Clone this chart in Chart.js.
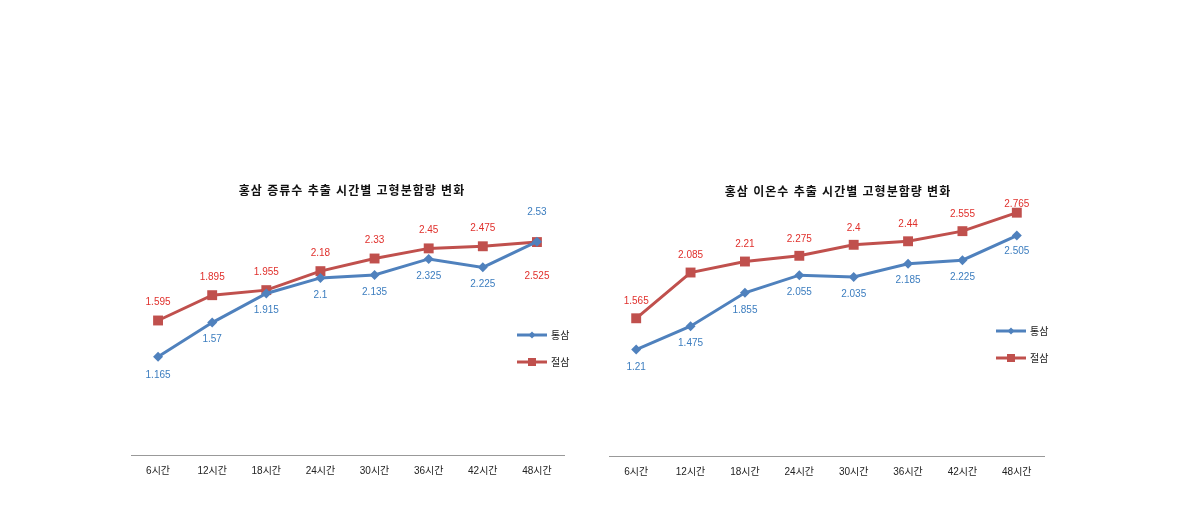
<!DOCTYPE html>
<html>
<head>
<meta charset="utf-8">
<script src="https://cdn.jsdelivr.net/npm/chart.js@4/dist/chart.umd.min.js"></script>
<style>
  body { margin: 0; background: #fff; }
  #wrap { position: relative; width: 1190px; height: 523px; }
  .box { position: absolute; top: 0; width: 595px; height: 523px; }
</style>
</head>
<body>
<div id="wrap">
  <div class="box" style="left:0"><canvas id="chart1"></canvas></div>
  <div class="box" style="left:595px"><canvas id="chart2"></canvas></div>
</div>
<script>
const hours = ["6시간", "12시간", "18시간", "24시간", "30시간", "36시간", "42시간", "48시간"];
const seriesNames = ["통삼", "절삼"];

// 증류수
const distilledWhole = [1.165, 1.57, 1.915, 2.1, 2.135, 2.325, 2.225, 2.53];
const distilledCut = [1.595, 1.895, 1.955, 2.18, 2.33, 2.45, 2.475, 2.525];

// 이온수
const ionWhole = [1.21, 1.475, 1.855, 2.055, 2.035, 2.185, 2.225, 2.505];
const ionCut = [1.565, 2.085, 2.21, 2.275, 2.4, 2.44, 2.555, 2.765];

const titles = ["홍삼 증류수 추출 시간별 고형분함량 변화", "홍삼 이온수 추출 시간별 고형분함량 변화"];

const blue = "#4F81BD";
const red = "#C0504D";
const blueText = "#3C7DBF";
const redText = "#E0302C";
const font = "'Liberation Sans', 'Noto Sans CJK KR', sans-serif";

// draws value labels next to each point; offset < 0 is above, > 0 below
const valueLabels = {
  id: "valueLabels",
  afterDatasetsDraw(chart, args, opts) {
    const ctx = chart.ctx;
    ctx.save();
    ctx.font = "10px " + font;
    ctx.textAlign = "center";
    ctx.textBaseline = "middle";
    chart.data.datasets.forEach((ds, i) => {
      const meta = chart.getDatasetMeta(i);
      const offs = opts.offsets[i];
      ctx.fillStyle = i === 0 ? blueText : redText;
      meta.data.forEach((pt, j) => {
        ctx.fillText(String(ds.data[j]), pt.x, pt.y + offs[j]);
      });
    });
    ctx.restore();
  }
};

// title and legend drawn in fixed places, like the excel layout
const extras = {
  id: "extras",
  afterDraw(chart, args, opts) {
    const ctx = chart.ctx;
    ctx.save();
    ctx.font = "bold 12px " + font;
    ctx.letterSpacing = "1px";
    ctx.fillStyle = "#111";
    ctx.textAlign = "center";
    ctx.textBaseline = "middle";
    ctx.fillText(opts.title, opts.titleX, opts.titleY);
    ctx.letterSpacing = "0px";

    ctx.font = "10px " + font;
    ctx.textAlign = "left";
    chart.data.datasets.forEach((ds, i) => {
      const y = opts.legendY + i * 27;
      const x = opts.legendX;
      ctx.strokeStyle = ds.borderColor;
      ctx.lineWidth = 3;
      ctx.beginPath();
      ctx.moveTo(x, y);
      ctx.lineTo(x + 30, y);
      ctx.stroke();
      ctx.fillStyle = ds.borderColor;
      if (i === 0) {
        ctx.beginPath();
        ctx.moveTo(x + 15, y - 3.5);
        ctx.lineTo(x + 18.5, y);
        ctx.lineTo(x + 15, y + 3.5);
        ctx.lineTo(x + 11.5, y);
        ctx.closePath();
        ctx.fill();
      } else {
        ctx.fillRect(x + 11, y - 4, 8, 8);
      }
      ctx.fillStyle = "#222";
      ctx.fillText(ds.label, x + 34, y + 1);
    });
    ctx.restore();
  }
};

function makeChart(id, whole, cut, cfg) {
  return new Chart(document.getElementById(id), {
    type: "line",
    data: {
      labels: hours,
      datasets: [
        {
          label: seriesNames[0],
          data: whole,
          borderColor: blue,
          backgroundColor: blue,
          borderWidth: 3,
          pointStyle: "rectRot",
          pointRadius: 5,
          pointBorderWidth: 0,
          tension: 0
        },
        {
          label: seriesNames[1],
          data: cut,
          borderColor: red,
          backgroundColor: red,
          borderWidth: 3,
          pointStyle: "rect",
          pointRadius: 7,
          pointBorderWidth: 0,
          tension: 0
        }
      ]
    },
    options: {
      responsive: false,
      animation: false,
      layout: { padding: cfg.padding },
      scales: {
        x: {
          offset: true,
          grid: { display: false, drawTicks: false },
          border: { display: true, color: "#999", width: 1 },
          ticks: { color: "#222", font: { size: 10, family: font }, padding: 10, maxRotation: 0 },
          afterFit(s) { s.height = 30; }
        },
        y: {
          display: false,
          min: 0,
          max: 3
        }
      },
      plugins: {
        legend: { display: false },
        tooltip: { enabled: false },
        valueLabels: { offsets: cfg.offsets },
        extras: cfg.extras
      }
    },
    plugins: [valueLabels, extras]
  });
}

function size(id) {
  const c = document.getElementById(id);
  c.width = 595;
  c.height = 523;
}
size("chart1");
size("chart2");

makeChart("chart1", distilledWhole, distilledCut, {
  padding: { left: 131, right: 31, top: 202, bottom: 38 },
  offsets: [
    [18, 17, 17, 17, 17, 17, 17, -29],
    [-18, -18, -18, -18, -18, -18, -18, 34]
  ],
  extras: { title: titles[0], titleX: 352, titleY: 192, legendX: 517, legendY: 335 }
});

makeChart("chart2", ionWhole, ionCut, {
  padding: { left: 14, right: 146, top: 192, bottom: 37 },
  offsets: [
    [18, 17, 17, 17, 17, 17, 17, 16],
    [-17, -17, -17, -17, -17, -17, -17, -8]
  ],
  extras: { title: titles[1], titleX: 243, titleY: 193, legendX: 401, legendY: 331 }
});
</script>
</body>
</html>
